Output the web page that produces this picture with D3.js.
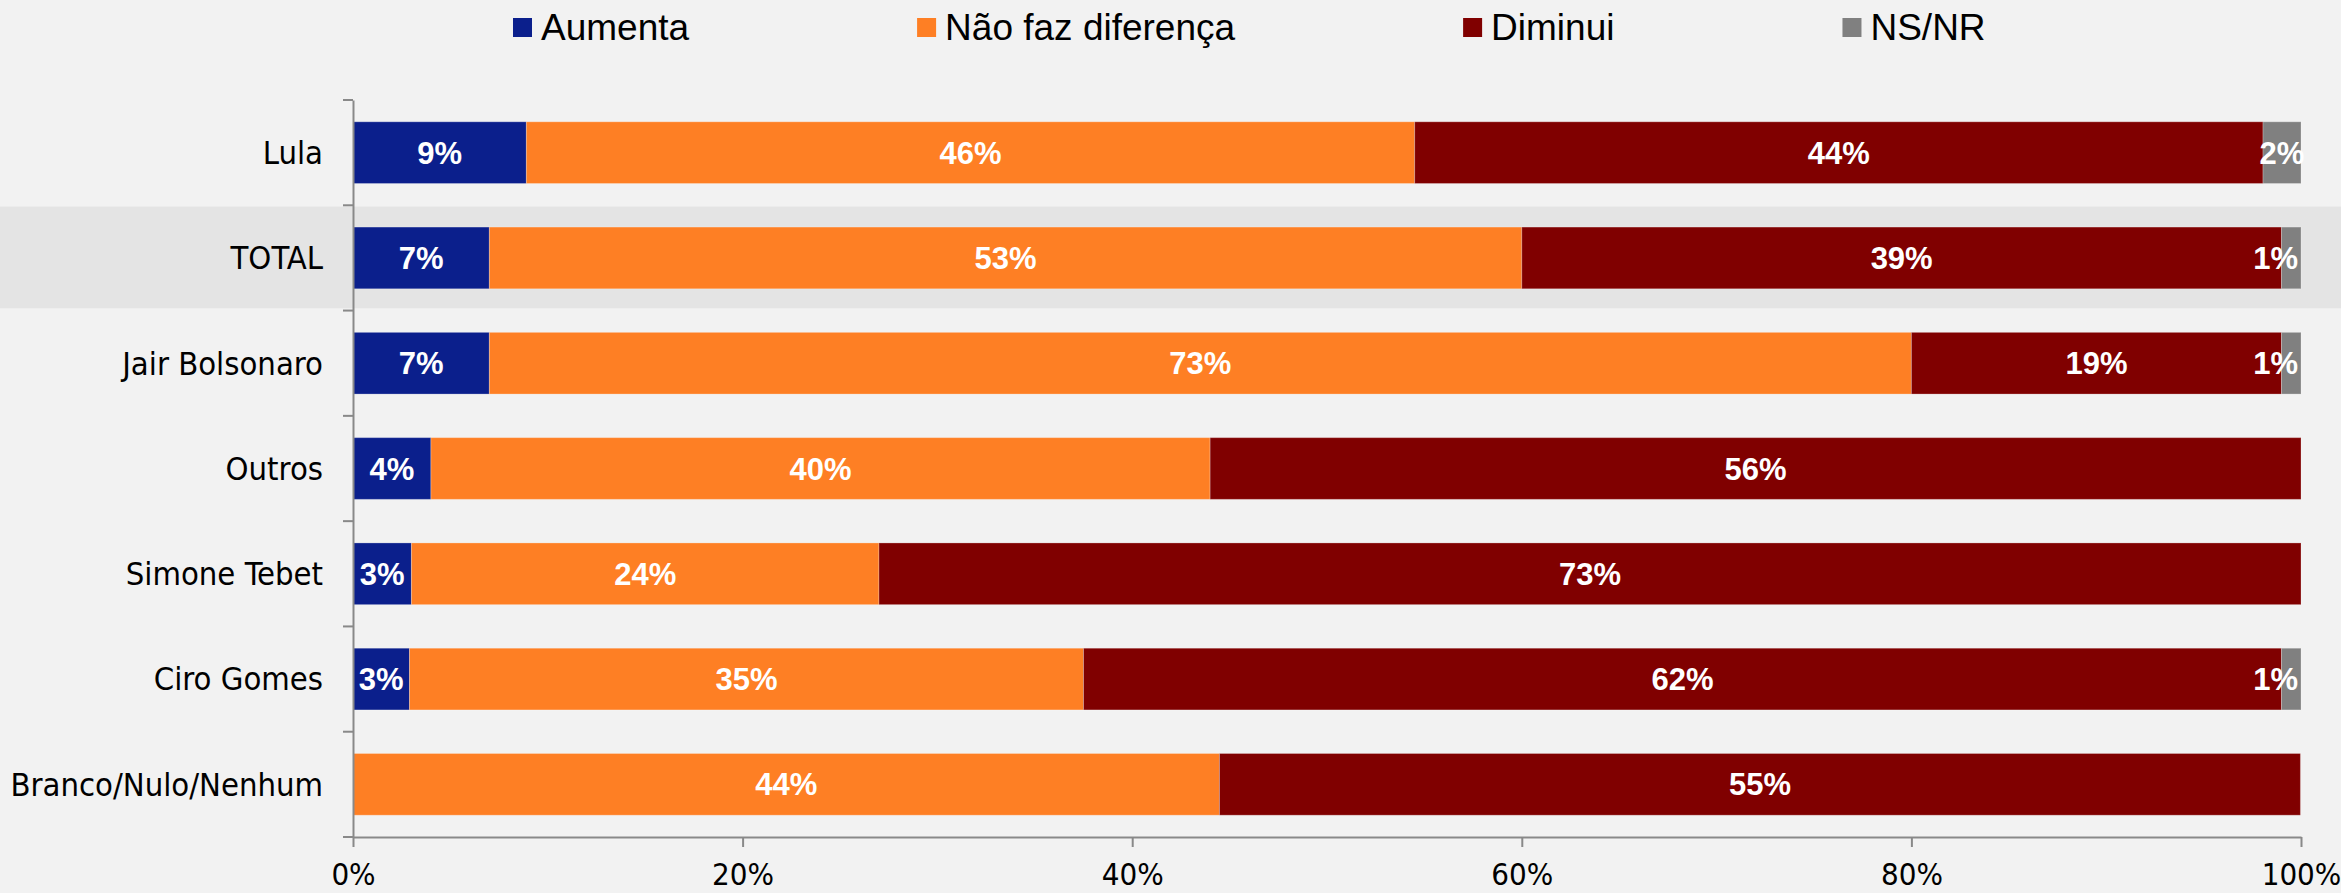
<!DOCTYPE html>
<html>
<head>
<meta charset="utf-8">
<script src="https://cdn.jsdelivr.net/npm/d3@7"></script>
<style>
  html, body { margin: 0; padding: 0; background: #f2f2f2; }
  svg { display: block; }
</style>
</head>
<body>
<script>
// ---- data ----
const categories = ["Lula", "TOTAL", "Jair Bolsonaro", "Outros", "Simone Tebet", "Ciro Gomes", "Branco/Nulo/Nenhum"];
const seriesNames = ["Aumenta", "Não faz diferença", "Diminui", "NS/NR"];
const aumenta = [8.9, 7.0, 7.0, 4.0, 3.0, 2.9, 0];
const naoFaz  = [45.6, 53.0, 73.0, 40.0, 24.0, 34.6, 44.48];
const diminui = [43.55, 39.0, 19.0, 56.0, 73.0, 61.5, 55.49];
const nsnr    = [1.95, 1.0, 1.0, 0, 0, 1.0, 0];
const xTicks  = [0, 20, 40, 60, 80, 100];
const colors  = ["#0b1f8c", "#fe7f24", "#800000", "#808080"];
const highlight = "TOTAL";

// ---- layout ----
const W = 2341, H = 893;
const svg = d3.select("body").append("svg").attr("width", W).attr("height", H);
svg.append("rect").attr("width", W).attr("height", H).attr("fill", "#f2f2f2");

const x = d3.scaleLinear().domain([0, 100]).range([353, 2301]);
const y = d3.scaleBand().domain(categories).range([100, 837]).paddingInner(0.414).paddingOuter(0.207);

const rows = categories.map((c, i) => ({
  cat: c, "Aumenta": aumenta[i], "Não faz diferença": naoFaz[i], "Diminui": diminui[i], "NS/NR": nsnr[i]
}));
const stacked = d3.stack().keys(seriesNames)(rows);

// highlight band
svg.append("rect")
  .attr("x", 0).attr("width", W)
  .attr("y", y(highlight) - 20.5).attr("height", y.bandwidth() + 40)
  .attr("fill", "#e4e4e4");

// bars
const layers = svg.append("g").selectAll("g").data(stacked).join("g")
  .attr("fill", (d, i) => colors[i]);
layers.selectAll("rect").data(d => d.filter(p => p[1] - p[0] > 0)).join("rect")
  .attr("x", d => x(d[0]))
  .attr("width", d => x(d[1]) - x(d[0]))
  .attr("y", d => y(d.data.cat))
  .attr("height", y.bandwidth())
  .attr("stroke", "rgba(255,255,255,0.25)")
  .attr("stroke-width", 1);

// value labels
const lab = svg.append("g")
  .attr("font-family", "'Liberation Sans', Arial, sans-serif")
  .attr("font-weight", "bold").attr("font-size", 31).attr("fill", "#fff");
stacked.forEach((layer, li) => {
  layer.forEach(d => {
    const v = d[1] - d[0];
    if (v < 0.5) return;
    const txt = Math.round(v) + "%";
    let tx = (x(d[0]) + x(d[1])) / 2, anchor = "middle";
    if (li === 3 && v < 1.5) { tx = x(d[1]) - 3; anchor = "end"; }
    lab.append("text")
      .attr("x", tx).attr("y", y(d.data.cat) + y.bandwidth() / 2 + 11)
      .attr("text-anchor", anchor).text(txt);
  });
});

// x axis
const axisColor = "#898989";
const xAxis = svg.append("g").attr("transform", "translate(0,837)")
  .call(d3.axisBottom(x).tickValues(xTicks).tickFormat(d => d + "%").tickSize(10).tickSizeOuter(0).tickPadding(16));
xAxis.select(".domain").attr("stroke", axisColor).attr("stroke-width", 2);
xAxis.selectAll(".tick line").attr("stroke", axisColor).attr("stroke-width", 2);
xAxis.selectAll(".tick text")
  .attr("font-family", "'Liberation Sans Narrow', 'Arial Narrow', 'DejaVu Sans Condensed', sans-serif")
  .attr("font-size", 31).attr("fill", "#000");

// y axis
const yAxis = svg.append("g").attr("transform", "translate(353,0)")
  .call(d3.axisLeft(y).tickSize(0).tickSizeOuter(0).tickPadding(30));
yAxis.select(".domain").attr("stroke", axisColor).attr("stroke-width", 2);
yAxis.selectAll(".tick text")
  .attr("font-family", "'DejaVu Sans Condensed', 'DejaVu Sans', sans-serif")
  .attr("font-size", 32.5).attr("fill", "#000").attr("dy", "0.35em");
// category boundary ticks
const bounds = d3.range(categories.length + 1).map(i => y.range()[0] + i * y.step());
yAxis.selectAll(".btick").data(bounds).join("line").attr("class", "btick")
  .attr("x1", -10).attr("x2", 0).attr("y1", d => d).attr("y2", d => d)
  .attr("stroke", axisColor).attr("stroke-width", 2);

// legend
const leg = svg.append("g")
  .attr("font-family", "'Liberation Sans', Arial, sans-serif").attr("font-size", 37);
let lx = 513;
seriesNames.forEach((name, i) => {
  leg.append("rect").attr("x", lx).attr("y", 18).attr("width", 19).attr("height", 19).attr("fill", colors[i]);
  const t = leg.append("text").attr("x", lx + 28).attr("y", 40).attr("fill", "#000").text(name);
  lx += 28 + t.node().getComputedTextLength() + 228;
});
</script>
</body>
</html>
